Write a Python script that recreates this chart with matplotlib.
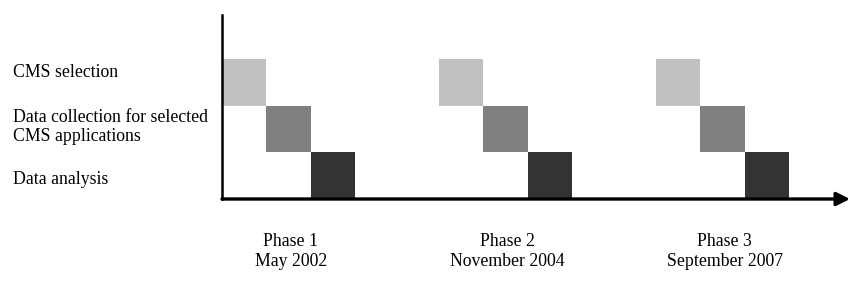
import matplotlib.pyplot as plt

# data
tasks = ["CMS selection", "Data collection for selected\nCMS applications", "Data analysis"]
task_rows = [2, 1, 0]            # row index of each task (top to bottom)
task_step = [0, 1, 2]            # column offset inside a phase
task_colors = ["#c0c0c0", "#808080", "#333333"]
label_y = [2.70, 1.54, 0.41]

phases = ["Phase 1\nMay 2002", "Phase 2\nNovember 2004", "Phase 3\nSeptember 2007"]
phase_start = [0, 4.9, 9.8]

plt.rcParams['font.family'] = ['Liberation Serif', 'DejaVu Serif']

fig = plt.figure(figsize=(8.5, 2.89), dpi=100)
W, H = 850, 289
ax = fig.add_axes([222 / W, 1 - 199 / H, 628 / W, 184 / H])

for p in phase_start:
    for r, s, c in zip(task_rows, task_step, task_colors):
        ax.bar(p + s, 1, width=1, bottom=r, align='edge', color=c, linewidth=0)

xmax = 628 / 44.3
ax.set_xlim(0, xmax)
ax.set_ylim(0, 184 / 46.7)

for sp in ['top', 'right', 'bottom']:
    ax.spines[sp].set_visible(False)
ax.spines['left'].set_linewidth(1.8)
ax.set_xticks([])
ax.set_yticks([])

# time axis with arrow
ax.annotate('', xy=(xmax, 0), xytext=(0, 0), xycoords='data',
            arrowprops=dict(arrowstyle='-|>', lw=2.4, color='black',
                            mutation_scale=20, shrinkA=0, shrinkB=0),
            annotation_clip=False)

for t, y in zip(tasks, label_y):
    ax.text(-0.333, y, t, transform=ax.get_yaxis_transform(), ha='left', va='center',
            fontsize=12.8, linespacing=1.1)

for p, lab in zip(phase_start, phases):
    ax.text(p + 1.55, -1.12, lab, ha='center', va='center', fontsize=12.8,
            linespacing=1.2, clip_on=False)

fig.savefig('out.png', dpi=100)
